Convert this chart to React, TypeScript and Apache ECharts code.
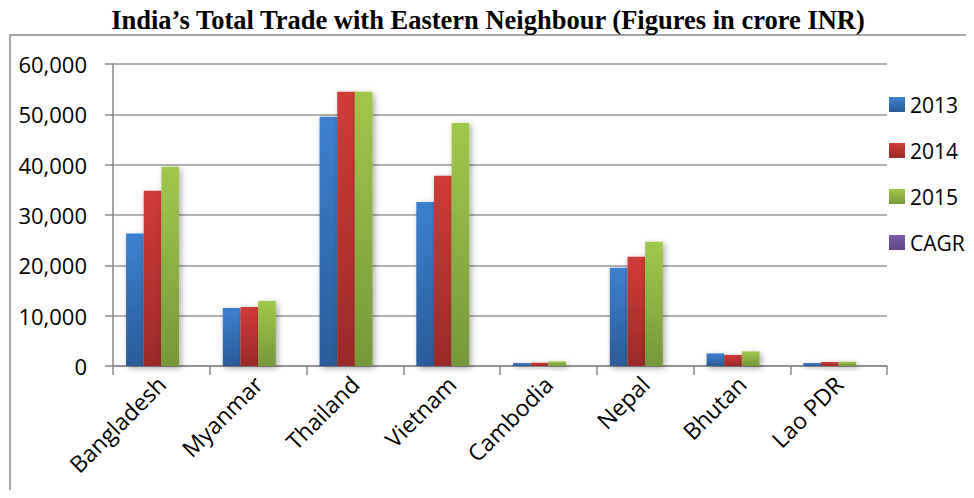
import React, { useEffect, useRef } from "react";
import * as echarts from "echarts";

const categories = ["Bangladesh", "Myanmar", "Thailand", "Vietnam", "Cambodia", "Nepal", "Bhutan", "Lao PDR"];
const seriesNames = ["2013", "2014", "2015", "CAGR"];
const values2013 = [26300, 11500, 49500, 32600, 600, 19500, 2500, 600];
const values2014 = [34800, 11700, 54500, 37800, 650, 21700, 2200, 800];
const values2015 = [39600, 12900, 54500, 48300, 900, 24700, 2900, 850];
const valuesCAGR = [0.23, 0.06, 0.05, 0.22, 0.2, 0.12, 0.08, 0.2];
const yTicks = [0, 10000, 20000, 30000, 40000, 50000, 60000];

const gradients = [
  ["#3d80cf", "#2b5c98"],
  ["#d03c38", "#9b2a27"],
  ["#a0c84b", "#76983a"],
  ["#7d5ba8", "#5f468a"],
];

const FONT = "'Open Sans', sans-serif";

export default function App() {
  const ref = useRef<HTMLDivElement>(null);
  useEffect(() => {
    if (!ref.current) return;
    const chart = echarts.init(ref.current, null, { renderer: "svg" });
    const allData = [values2013, values2014, values2015, valuesCAGR];
    const series = seriesNames.map((name, i) => ({
      name,
      type: "bar",
      data: allData[i],
      barGap: "0%",
      barCategoryGap: "27%",
      itemStyle: {
        color: new echarts.graphic.LinearGradient(0, 0, 0, 1, [
          { offset: 0, color: gradients[i][0] },
          { offset: 1, color: gradients[i][1] },
        ]),
        shadowBlur: 6,
        shadowColor: "rgba(0,0,0,0.35)",
        shadowOffsetX: 2,
        shadowOffsetY: 2,
      },
    }));
    chart.setOption({
      animation: false,
      backgroundColor: "#ffffff",
      graphic: [
        {
          type: "rect",
          shape: { x: 10, y: 35, width: 1000, height: 500 },
          style: { fill: "none", stroke: "#8a8a8a", lineWidth: 1.5 },
          silent: true,
        },
        {
          type: "text",
          x: 488,
          y: 20,
          style: {
            text: "India\u2019s Total Trade with Eastern Neighbour (Figures in crore INR)",
            font: "bold 26.5px 'Liberation Serif', 'Times New Roman', serif",
            fill: "#000",
            align: "center",
            verticalAlign: "middle",
          },
        },
      ],
      legend: {
        orient: "vertical",
        left: 889,
        top: 94,
        itemWidth: 16,
        itemHeight: 15,
        itemGap: 25,
        icon: "rect",
        padding: 0,
        data: seriesNames,
        textStyle: { fontFamily: FONT, fontSize: 21, color: "#000" },
      },
      grid: { left: 113, right: 87, top: 64, bottom: 132, containLabel: false },
      xAxis: {
        type: "category",
        data: categories,
        axisLine: { lineStyle: { color: "#888", width: 1.5 } },
        axisTick: { show: true, length: 9, lineStyle: { color: "#888", width: 1.5 } },
        axisLabel: {
          rotate: 45,
          margin: 14,
          fontFamily: FONT,
          fontSize: 23,
          color: "#000",
          interval: 0,
        },
      },
      yAxis: {
        type: "value",
        min: 0,
        max: 60000,
        interval: 10000,
        axisLine: { show: true, lineStyle: { color: "#888", width: 1.5 } },
        axisTick: { show: true, length: 8, lineStyle: { color: "#888", width: 1.5 } },
        splitLine: { show: true, lineStyle: { color: "#999", width: 1.5 } },
        axisLabel: {
          margin: 26,
          fontFamily: FONT,
          fontSize: 22,
          color: "#000",
          formatter: (v: number) => (yTicks.includes(v) ? v.toLocaleString("en-US") : ""),
        },
      },
      series,
    });
    return () => chart.dispose();
  }, []);
  return <div ref={ref} style={{ width: 974, height: 498, margin: -8 }} />;
}
